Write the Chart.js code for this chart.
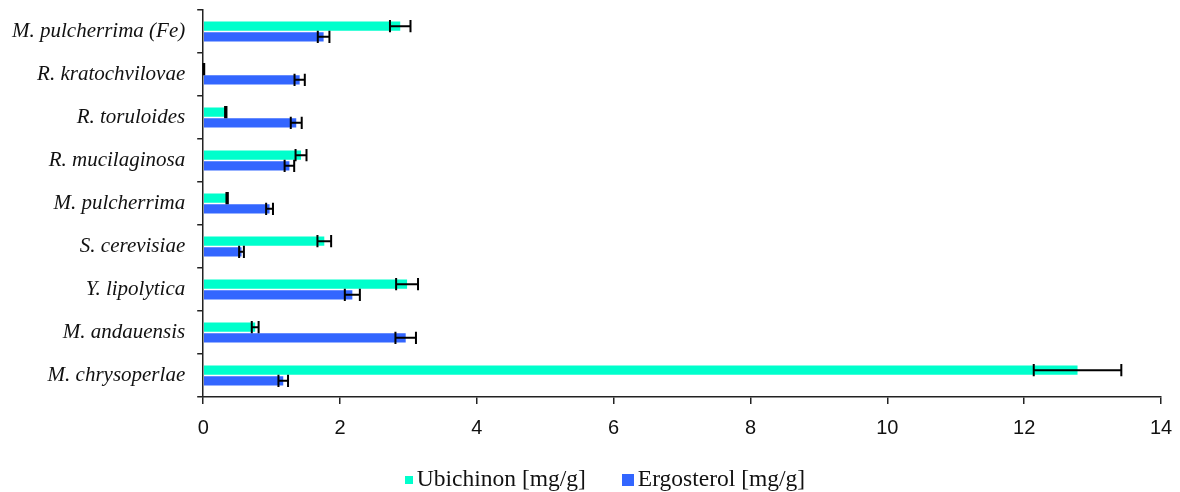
<!DOCTYPE html>
<html>
<head>
<meta charset="utf-8">
<script src="https://cdn.jsdelivr.net/npm/chart.js@4/dist/chart.umd.min.js"></script>
<style>
  html, body { margin: 0; padding: 0; background: #fff; }
  #wrap { position: relative; width: 1180px; height: 492px; }
  #legend {
    position: absolute; left: 0; top: 465px; width: 1180px; line-height: 27px;
    display: flex; justify-content: center; align-items: center;
    padding-left: 30px; box-sizing: border-box;
    font-family: "Liberation Serif", "Times New Roman", serif; font-size: 23.5px; color: #111;
  }
  #legend .item { display: flex; align-items: center; margin: 0 18px; }
  #legend .box { display: inline-block; margin-right: 4px; position: relative; top: 1px; }
</style>
</head>
<body>
<div id="wrap">
  <canvas id="chart" width="1180" height="492"></canvas>
  <div id="legend"></div>
</div>
<script>
const species = [
  "M. pulcherrima (Fe)",
  "R. kratochvilovae",
  "R. toruloides",
  "R. mucilaginosa",
  "M. pulcherrima",
  "S. cerevisiae",
  "Y. lipolytica",
  "M. andauensis",
  "M. chrysoperlae",
];
const ubichinon = [2.88, 0.01, 0.33, 1.43, 0.35, 1.77, 2.98, 0.76, 12.78];
const ubichinonErr = [0.15, 0.005, 0.01, 0.08, 0.01, 0.1, 0.16, 0.05, 0.64];
const ergosterol = [1.76, 1.41, 1.36, 1.26, 0.97, 0.56, 2.18, 2.96, 1.17];
const ergosterolErr = [0.085, 0.075, 0.08, 0.07, 0.05, 0.035, 0.11, 0.15, 0.07];
const xTicks = [0, 2, 4, 6, 8, 10, 12, 14];

const axisColor = "#222";

// whiskers drawn over each bar: value - err .. value + err
const errorBars = {
  id: "errorBars",
  afterDatasetsDraw(chart) {
    const { ctx } = chart;
    const xs = chart.scales.x;
    ctx.save();
    ctx.strokeStyle = "#000";
    ctx.lineWidth = 2;
    chart.data.datasets.forEach((ds, i) => {
      const meta = chart.getDatasetMeta(i);
      meta.data.forEach((bar, j) => {
        const v = ds.data[j],
          e = ds.errors[j];
        const { y, height } = bar.getProps(["y", "height"], true);
        const lo = xs.getPixelForValue(v - e),
          hi = xs.getPixelForValue(v + e);
        const h = (height || 9) / 2 + 1.5;
        ctx.beginPath();
        ctx.moveTo(lo, y);
        ctx.lineTo(hi, y);
        ctx.moveTo(lo, y - h);
        ctx.lineTo(lo, y + h);
        ctx.moveTo(hi, y - h);
        ctx.lineTo(hi, y + h);
        ctx.stroke();
      });
    });
    ctx.restore();
  },
};

const chart = new Chart(document.getElementById("chart").getContext("2d"), {
  type: "bar",
  data: {
    labels: species,
    datasets: [
      {
        label: "Ubichinon [mg/g]",
        data: ubichinon,
        errors: ubichinonErr,
        backgroundColor: "#00FFCC",
        legendBox: 8,
      },
      {
        label: "Ergosterol [mg/g]",
        data: ergosterol,
        errors: ergosterolErr,
        backgroundColor: "#3366FF",
        legendBox: 12,
      },
    ],
  },
  options: {
    indexAxis: "y",
    responsive: false,
    animation: false,
    categoryPercentage: 0.49,
    barPercentage: 0.88,
    layout: { padding: { top: 10, right: 19, bottom: 40, left: 0 } },
    plugins: {
      legend: { display: false },
      tooltip: { enabled: false },
    },
    scales: {
      x: {
        min: 0,
        max: 14,
        afterBuildTicks: (scale) => {
          scale.ticks = xTicks.map((v) => ({ value: v }));
        },
        afterFit: (scale) => {
          scale.paddingLeft = 0;
          scale.paddingRight = 0;
        },
        grid: { drawOnChartArea: false, drawTicks: true, tickLength: 7, color: axisColor, lineWidth: 1.5 },
        border: { color: axisColor, width: 1.5 },
        ticks: {
          color: "#111",
          padding: 12,
          font: { family: "Liberation Sans", size: 20 },
        },
      },
      y: {
        afterFit: (scale) => {
          scale.paddingTop = 0;
          scale.paddingBottom = 0;
        },
        grid: { drawOnChartArea: false, drawTicks: true, tickLength: 6, color: axisColor, lineWidth: 1.5, offset: true },
        border: { color: axisColor, width: 1.5 },
        ticks: {
          color: "#111",
          padding: 12,
          font: { family: "Liberation Serif", style: "italic", size: 21 },
        },
      },
    },
  },
  plugins: [errorBars],
});

// legend built from the datasets
const legend = document.getElementById("legend");
chart.data.datasets.forEach((ds) => {
  const item = document.createElement("span");
  item.className = "item";
  const box = document.createElement("span");
  box.className = "box";
  box.style.width = box.style.height = ds.legendBox + "px";
  box.style.background = ds.backgroundColor;
  const txt = document.createElement("span");
  txt.textContent = ds.label;
  item.append(box, txt);
  legend.append(item);
});
</script>
</body>
</html>
